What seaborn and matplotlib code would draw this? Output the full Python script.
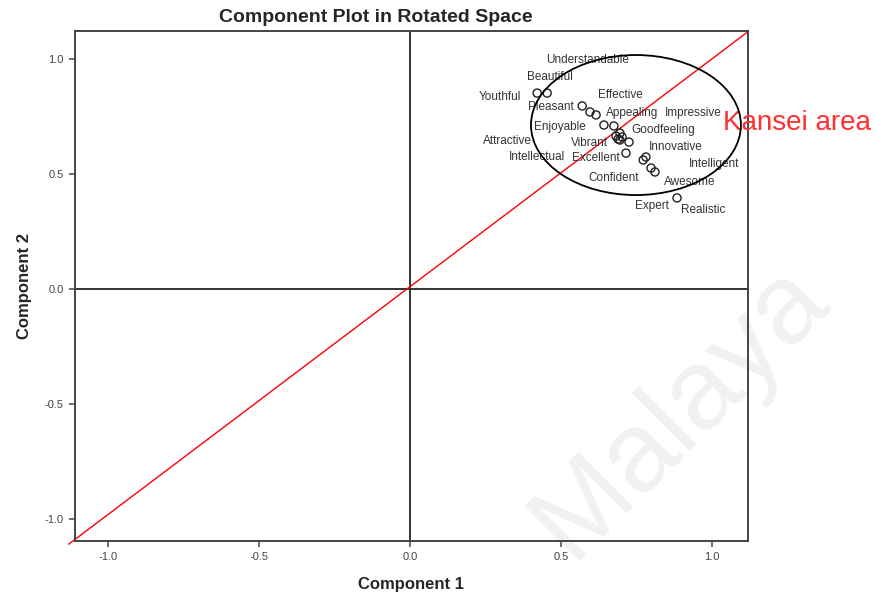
import matplotlib
matplotlib.use("Agg")
import matplotlib.pyplot as plt
from matplotlib.patches import Ellipse
import pandas as pd
import seaborn as sns

# rotated component loadings
attributes = ["Youthful", "Beautiful", "Understandable", "Pleasant", "Effective",
              "Appealing", "Enjoyable", "Impressive", "Goodfeeling", "Attractive",
              "Vibrant", "Intellectual", "Innovative", "Excellent", "Intelligent",
              "Confident", "Awesome", "Expert", "Realistic"]
component_1 = [0.421, 0.454, 0.616, 0.570, 0.596,
               0.642, 0.675, 0.695, 0.702, 0.689,
               0.695, 0.682, 0.725, 0.715, 0.781,
               0.772, 0.811, 0.798, 0.884]
component_2 = [0.852, 0.852, 0.757, 0.796, 0.770,
               0.713, 0.709, 0.678, 0.661, 0.652,
               0.648, 0.665, 0.639, 0.591, 0.574,
               0.561, 0.509, 0.526, 0.396]

# where each label sits relative to its point (pixels)
label_offsets = {
    "Youthful": (-37, -4), "Beautiful": (3, 16), "Understandable": (-8, 55),
    "Pleasant": (-31, -1), "Effective": (30, 17), "Appealing": (28, 12),
    "Enjoyable": (-54, -1), "Impressive": (73, 20), "Goodfeeling": (41, 7),
    "Attractive": (-111, -2), "Vibrant": (-30, -3), "Intellectual": (-79, -21),
    "Innovative": (47, -5), "Excellent": (-30, -5), "Intelligent": (68, -7),
    "Confident": (-30, -18), "Awesome": (35, -10), "Expert": (1, -38),
    "Realistic": (26, -12),
}

df = pd.DataFrame({"attr": attributes, "c1": component_1, "c2": component_2})

sns.set_style("white")
plt.rcParams["font.family"] = ["Liberation Sans", "DejaVu Sans"]

fig = plt.figure(figsize=(8.75, 6.01), dpi=100)
ax = fig.add_axes([75 / 875, 60 / 601, 673 / 875, 510 / 601])

# watermark
ax.text(0.894, -0.53, "Malaya", fontsize=82, color="#f1f1f1", rotation=45,
        ha="center", va="center", zorder=0, clip_on=False)

ax.axvline(0, color="#333333", lw=1.4, zorder=1)
ax.axhline(0, color="#333333", lw=1.4, zorder=1)
ax.plot([-1.13, 1.12], [-1.11, 1.12], color="red", lw=1, zorder=2, clip_on=False)

sns.scatterplot(data=df, x="c1", y="c2", ax=ax, s=34, marker="o",
                facecolor="none", edgecolor="#222222", linewidth=1.0, zorder=3)

for a, x, y in zip(attributes, component_1, component_2):
    dx, dy = label_offsets[a]
    ax.annotate(a, (x, y), xytext=(dx, dy), textcoords="offset pixels",
                ha="center", va="center", fontsize=8.5, color="#333333", zorder=4)

ax.add_patch(Ellipse((0.748, 0.713), 0.695, 0.609, fill=False,
                     edgecolor="black", lw=1.3, zorder=5))
ax.text(1.036, 0.722, "Kansei area", color="#ff3030", fontsize=20,
        ha="left", va="center", clip_on=False)

ax.set_xlim(-1.109, 1.119)
ax.set_ylim(-1.096, 1.122)
ticks = [-1.0, -0.5, 0.0, 0.5, 1.0]
ax.set_xticks(ticks)
ax.set_yticks(ticks)
ax.set_xticklabels([f"{t:.1f}" for t in ticks], fontsize=8, color="#444444")
ax.set_yticklabels([f"{t:.1f}" for t in ticks], fontsize=8, color="#444444")
ax.tick_params(length=4, width=1.2, color="#555555", direction="out",
               left=True, bottom=True, pad=4)
for sp in ax.spines.values():
    sp.set_color("#444444")
    sp.set_linewidth(1.4)

ax.set_xlabel("Component 1", fontsize=12, fontweight="bold", labelpad=11)
ax.set_ylabel("Component 2", fontsize=12, fontweight="bold", labelpad=9)
fig.text(376 / 875, 1 - 18 / 601, "Component Plot in Rotated Space",
         ha="center", va="center", fontsize=14, fontweight="bold")

fig.savefig("out.png", dpi=100)
